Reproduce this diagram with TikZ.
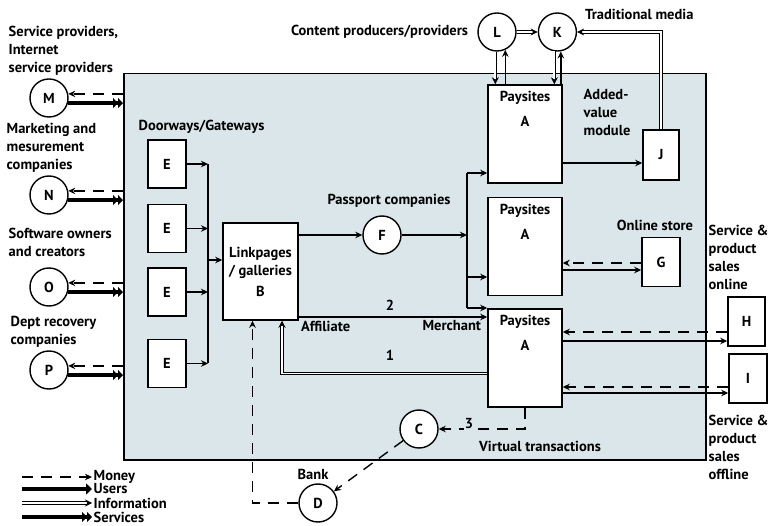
\documentclass[tikz,border=0pt]{standalone}
\usepackage{fontspec}
\setmainfont{PT Sans}
\usetikzlibrary{arrows.meta, positioning, calc}
\definecolor{panelbg}{RGB}{218,230,234}

\begin{document}
\begin{tikzpicture}[x=1pt, y=-1pt, line width=1.4pt,
    every node/.style={font=\bfseries\fontsize{14.5}{18}\selectfont},
    flow/.style={-{Stealth[length=7pt,width=6.5pt]}},
    money/.style={dash pattern=on 11pt off 8pt, -{Stealth[length=7pt,width=6.5pt]}},
    info/.style={double, double distance=1.8pt, line width=0.8pt, -{Stealth[length=7pt,width=7pt]}},
    users/.style={line width=4.5pt, -{Triangle[length=6pt,width=11pt]}},
    serv/.style={line width=4.5pt, -{Triangle[length=5pt,width=10pt]Triangle[length=5pt,width=10pt]}},
    actor/.style={circle, draw, fill=white, minimum size=38pt, inner sep=0pt},
    ebox/.style={draw, fill=white, minimum width=38pt, minimum height=48pt, inner sep=0pt, line width=1.5pt},
    pay/.style={draw, fill=white, minimum width=74pt, minimum height=98pt, inner sep=0pt, line width=1.5pt,
      label={[anchor=north, align=center, yshift=-3pt]north:Paysites\\[7pt]A}},
    txt/.style={inner sep=0pt, align=left}]
  \useasboundingbox (0,0) rectangle (771,526);

  % the site panel
  \node[draw, fill=panelbg, line width=1.5pt, minimum width=582pt, minimum height=386pt,
    inner sep=0pt, anchor=north west] (site) at (123,73) {};

  % outside parties on the left
  \node[actor] (M) at (49,98) {M};
  \node[actor] (N) at (49,195) {N};
  \node[actor] (O) at (49,287) {O};
  \node[actor] (P) at (49,370) {P};
  \node[txt, anchor=north west] (lM) at (8,25) {Service providers,\\Internet\\service providers};
  \node[txt, anchor=north west] (lN) at (6,122) {Marketing and\\mesurement\\companies};
  \node[txt, anchor=north west] (lO) at (8,227) {Software owners\\and creators};
  \node[txt, anchor=north west] (lP) at (10,316) {Dept recovery\\companies};
  \foreach \p in {M,N,O,P}{
    \draw[money] (\p.12 -| site.west) -- (\p.12);
    \draw[serv] (\p.-15) -- (\p.-15 -| site.west);
  }

  % doorways
  \node[ebox] (E1) at (167,164) {E};
  \node[ebox, below=15pt of E1] (E2) {E};
  \node[ebox, below=14pt of E2] (E3) {E};
  \node[ebox, below=22pt of E3] (E4) {E};
  \node[txt, anchor=west] (lE) at (138,127) {Doorways/Gateways};
  \coordinate (bus) at (208,260);
  \foreach \e in {E1,E2,E3,E4}
    \draw[flow] (\e.east) -- (\e.east -| bus);
  \draw (E1.east -| bus) -- (E4.east -| bus);

  % linkpages
  \node[draw, fill=white, line width=1.5pt, minimum width=75pt, minimum height=97pt, align=center]
    (B) at (260.5,271.5) {Linkpages\\/ galleries\\[3pt]B};
  \draw[flow] (bus) -- (bus -| B.west);

  % passport companies
  \node[actor, fill=white] (F) at (382,235) {F};
  \node (lF) at (389,201) {Passport companies};
  \draw[flow] (B.east |- F) -- (F);

  % paysites
  \node[pay] (A1) at (525,134) {};
  \node[pay, below=13pt of A1] (A2) {};
  \node[pay, below=12pt of A2] (A3) {};

  \coordinate (hub) at (467,235);
  \coordinate (hubtop) at (467,173);
  \coordinate (hubmid) at (467,277);
  \coordinate (hubbot) at (467,308);
  \draw[flow] (F) -- (hub);
  \draw (hubtop) -- (hubbot);
  \draw[flow] (hubtop) -- (hubtop -| A1.west);
  \draw[flow] (hubmid) -- (hubmid -| A2.west);
  \draw[flow] (hubbot) -- (hubbot -| A3.west);

  % affiliate / merchant
  \coordinate (aff) at ($(B.east)+(0,45.5)$);
  \draw[flow] (aff) -- (aff -| A3.west);
  \node (l2) at (390,305) {2};
  \node[anchor=west] (lAff) at (297,326) {Affiliate};
  \node[anchor=east] (lMer) at (485,326) {Merchant};
  \coordinate (ret) at ($(A3.west)+(0,15.5)$);
  \draw[info] (ret) -| ($(B.south)+(21.5,0)$);
  \node (l1) at (390,355) {1};

  % bank and virtual transactions
  \node[actor] (C) at (419,429) {C};
  \node[actor] (D) at (318,503) {D};
  \node (lD) at (313,474) {Bank};
  \draw[money] (A3.south) |- (C.east);
  \node[fill=panelbg, inner sep=1pt] (l3) at (469,424) {3};
  \node (lVT) at (540,446) {Virtual transactions};
  \draw[money] (C) -- (D);
  \draw[money] (D.west) -| ($(B.south)+(-8,0)$);

  % added value module
  \node[draw, fill=white, line width=1.5pt, minimum width=36pt, minimum height=50pt] (J) at (661,155) {J};
  \node[txt, anchor=north west] (lJ) at (583,89) {Added-\\value\\module};
  \draw[flow] ($(A1.east)+(0,29)$) -- ($(J.west)+(0,8)$);

  % online store
  \node[draw, fill=white, line width=1.5pt, minimum width=38pt, minimum height=49pt] (G) at (661,262) {G};
  \node (lG) at (655,225) {Online store};
  \draw[money] ($(G.west)+(0,1)$) -- ($(G.west -| A2.east)+(0,1)$);
  \draw[flow] ($(G.west -| A2.east)+(0,8)$) -- ($(G.west)+(0,8)$);

  % sales online / offline
  \node[draw, fill=white, line width=1.5pt, minimum width=37pt, minimum height=49pt] (H) at (746.5,321.5) {H};
  \node[draw, fill=white, line width=1.5pt, minimum width=38pt, minimum height=49pt] (I) at (748,378.5) {I};
  \node[txt, anchor=north west] (lH) at (708,224) {Service \&\\product\\sales\\online};
  \node[txt, anchor=north west] (lI) at (708,414) {Service \&\\product\\sales\\offline};
  \draw[money] ($(H.west)+(0,10.5)$) -- ($(H.west -| A3.east)+(0,10.5)$);
  \draw[flow] ($(H.west -| A3.east)+(0,19.5)$) -- ($(H.west)+(0,19.5)$);
  \draw[money] ($(I.west)+(0,8.5)$) -- ($(I.west -| A3.east)+(0,8.5)$);
  \draw[flow] ($(I.west -| A3.east)+(0,14.5)$) -- ($(I.west)+(0,14.5)$);

  % content producers and traditional media
  \node[actor] (L) at (497,32) {L};
  \node[actor, right=21pt of L] (K) {K};
  \node[anchor=east] (lL) at (472,32) {Content producers/providers};
  \node[anchor=west] (lK) at (581,14) {Traditional media};
  \draw[info] (L) -- (K);
  \draw[info] (L.-95) -- (L.-95 |- A1.north);
  \draw[flow] (L.-65 |- A1.north) -- (L.-65);
  \draw[info] (K.-99) -- (K.-99 |- A1.north);
  \draw[flow] (K.-80 |- A1.north) -- (K.-80);
  \draw[info] (J.north) |- (K.east);

  % legend
  \node[anchor=west, inner sep=1pt] (kMoney) at (92,477) {Money};
  \node[anchor=west, inner sep=1pt] (kUsers) at (92,489) {Users};
  \node[anchor=west, inner sep=1pt] (kInfo) at (92,503) {Information};
  \node[anchor=west, inner sep=1pt] (kServ) at (92,517) {Services};
  \coordinate (sMoney) at (22,477);
  \coordinate (sUsers) at (22,489);
  \coordinate (sInfo) at (22,503);
  \coordinate (sServ) at (22,517);
  \draw[money] (sMoney) -- (kMoney.west);
  \draw[users] (sUsers) -- (kUsers.west);
  \draw[info] (sInfo) -- (kInfo.west);
  \draw[serv] (sServ) -- (kServ.west);
\end{tikzpicture}
\end{document}
